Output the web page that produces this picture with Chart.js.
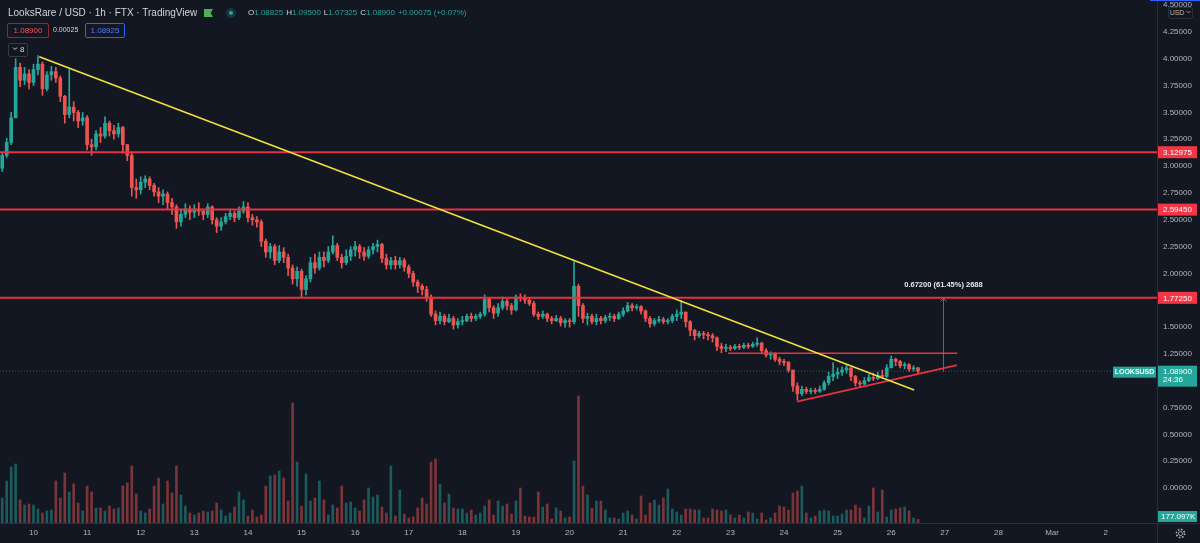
<!DOCTYPE html>
<html>
<head>
<meta charset="utf-8">
<title>LooksRare / USD · 1h · FTX</title>
<script src="https://cdn.jsdelivr.net/npm/chart.js@4.4.0/dist/chart.umd.min.js"></script>
<style>
  html, body { margin: 0; padding: 0; background: #131722; overflow: hidden; }
  #wrap { position: relative; width: 1200px; height: 543px; font-family: "Liberation Sans", Arial, sans-serif; }
  #c { position: absolute; left: 0; top: 0; }
  .t { position: absolute; white-space: nowrap; color: #d1d4dc; line-height: 12px; }
  .box { position: absolute; box-sizing: border-box; text-align: center; white-space: nowrap; }
  .ohlc .v { color: #26a69a; margin-right: 3px; }
</style>
</head>
<body>
<div id="wrap">
  <canvas id="c" width="1200" height="543"></canvas>

  <div class="t" style="left:8px;top:7px;font-size:10px;">LooksRare / USD · 1h · FTX · TradingView</div>
  <div style="position:absolute;left:204px;top:9px;width:9px;height:8px;background:#4caf50;clip-path:polygon(0 0,100% 0,75% 50%,100% 100%,0 100%);"></div>
  <div style="position:absolute;left:226px;top:8px;width:10px;height:10px;border-radius:50%;background:rgba(38,166,154,0.22);"></div>
  <div style="position:absolute;left:229px;top:11px;width:4px;height:4px;border-radius:50%;background:#26a69a;"></div>
  <div class="t ohlc" style="left:248px;top:8px;font-size:8px;line-height:10px;"><span>O</span><span class="v">1.08825</span><span>H</span><span class="v">1.09500</span><span>L</span><span class="v">1.07325</span><span>C</span><span class="v">1.08900</span><span class="v">+0.00075 (+0.07%)</span></div>

  <div class="box" style="left:7px;top:23px;width:42px;height:15px;border:1px solid rgba(242,54,69,0.55);border-radius:2px;color:#f7525f;font-size:8px;line-height:13px;">1.08900</div>
  <div class="t" style="left:53px;top:25px;font-size:7px;line-height:10px;">0.00025</div>
  <div class="box" style="left:85px;top:23px;width:40px;height:15px;border:1px solid #2962ff;border-radius:2px;color:#4d7cff;font-size:8px;line-height:13px;">1.08925</div>

  <div class="box" style="left:8px;top:43px;width:20px;height:14px;border:1px solid #363a45;border-radius:2px;color:#d1d4dc;font-size:8px;line-height:12px;">
    <svg width="6" height="5" viewBox="0 0 6 5" style="vertical-align:1px"><polyline points="1,1.5 3,3.5 5,1.5" fill="none" stroke="#d1d4dc" stroke-width="1"/></svg> 8</div>

  <div style="position:absolute;left:1150px;top:0;width:50px;height:1px;background:#2962ff;"></div>
  <div class="box" style="left:1168px;top:7px;width:25px;height:12px;border:1px solid #2a2e39;border-radius:2px;background:#131722;color:#b2b5be;font-size:7px;line-height:10px;">USD <svg width="5" height="4" viewBox="0 0 5 4" style="vertical-align:1px"><polyline points="0.5,1 2.5,3 4.5,1" fill="none" stroke="#b2b5be" stroke-width="0.8"/></svg></div>

  <svg style="position:absolute;left:1175px;top:528px" width="11" height="11" viewBox="0 0 11 11">
    <circle cx="5.5" cy="5.5" r="2" fill="none" stroke="#b2b5be" stroke-width="0.9"/>
    <circle cx="5.5" cy="5.5" r="4.1" fill="none" stroke="#b2b5be" stroke-width="1.6" stroke-dasharray="1.6 1.6"/>
  </svg>
</div>

<script>
// axis labels
const dayLabels = ['10', '11', '12', '13', '14', '15', '16', '17', '18', '19', '20', '21', '22', '23', '24', '25', '26', '27', '28', 'Mar', '2'];
const priceTicks = [-0.25, 0, 0.25, 0.5, 0.75, 1, 1.25, 1.5, 1.75, 2, 2.25, 2.5, 2.75, 3, 3.25, 3.5, 3.75, 4, 4.25, 4.5];

// candles: 2h bars, hours counted from Feb 10 00:00
const startHour = -14;
const stepHours = 2;
const firstOpen = 2.98;
const closes = [
  3.10, 3.22, 3.45, 3.92, 3.80, 3.86, 3.78,
  3.90, 3.95, 3.72, 3.85, 3.88, 3.82, 3.65, 3.48, 3.55, 3.50, 3.42, 3.45,
  3.20, 3.18, 3.30, 3.28, 3.40, 3.33, 3.30, 3.36, 3.20, 3.10, 2.80, 2.78,
  2.85, 2.88, 2.82, 2.76, 2.72, 2.74, 2.66, 2.62, 2.48, 2.55, 2.60, 2.57,
  2.60, 2.58, 2.55, 2.62, 2.50, 2.44, 2.48, 2.53, 2.56, 2.52, 2.58, 2.62,
  2.52, 2.50, 2.48, 2.30, 2.20, 2.25, 2.12, 2.20, 2.15, 2.05, 1.95, 2.02,
  1.85, 1.95, 2.10, 2.05, 2.15, 2.12, 2.20, 2.26, 2.15, 2.10, 2.16, 2.22,
  2.25, 2.20, 2.16, 2.22, 2.25, 2.27, 2.14, 2.08, 2.12, 2.08, 2.12, 2.06,
  2.00, 1.92, 1.88, 1.85, 1.78, 1.62, 1.56, 1.60, 1.55, 1.58, 1.52, 1.55,
  1.56, 1.60, 1.58, 1.60, 1.62, 1.76, 1.68, 1.63, 1.68, 1.74, 1.70, 1.66,
  1.78, 1.77, 1.75, 1.72, 1.62, 1.60, 1.62, 1.58, 1.56, 1.58, 1.54, 1.56,
  1.55, 1.88, 1.70, 1.58, 1.60, 1.55, 1.58, 1.56, 1.59, 1.60, 1.58, 1.62,
  1.65, 1.70, 1.68, 1.69, 1.65, 1.58, 1.53, 1.56, 1.57, 1.55, 1.56, 1.60,
  1.62, 1.64, 1.55, 1.47, 1.42, 1.44, 1.43, 1.42, 1.40, 1.32, 1.30, 1.31,
  1.30, 1.32, 1.31, 1.33, 1.32, 1.34, 1.35, 1.28, 1.24, 1.25, 1.20, 1.18,
  1.17, 1.10, 0.95, 0.88, 0.92, 0.90, 0.91, 0.90, 0.92, 0.98, 1.04, 1.06,
  1.08, 1.10, 1.12, 1.04, 0.98, 0.97, 1.00, 1.03, 1.02, 1.05, 1.04, 1.12,
  1.20, 1.18, 1.14, 1.15, 1.11, 1.12, 1.089
];
const highs = [
  3.12, 3.26, 3.50, 4.00, 3.96, 3.92, 3.90,
  3.95, 4.03, 3.97, 3.88, 3.93, 3.92, 3.84, 3.66, 3.90, 3.60, 3.52, 3.50,
  3.47, 3.25, 3.33, 3.36, 3.46, 3.42, 3.38, 3.40, 3.37, 3.20, 3.12, 2.88,
  2.90, 2.91, 2.90, 2.84, 2.80, 2.78, 2.76, 2.70, 2.64, 2.60, 2.65, 2.63,
  2.64, 2.66, 2.60, 2.65, 2.63, 2.52, 2.52, 2.56, 2.60, 2.58, 2.62, 2.67,
  2.66, 2.55, 2.53, 2.50, 2.32, 2.28, 2.27, 2.26, 2.24, 2.18, 2.08, 2.06,
  2.04, 1.98, 2.15, 2.18, 2.20, 2.20, 2.25, 2.35, 2.28, 2.18, 2.22, 2.25,
  2.30, 2.27, 2.24, 2.25, 2.28, 2.31, 2.28, 2.18, 2.15, 2.16, 2.15, 2.14,
  2.08, 2.02, 1.94, 1.90, 1.88, 1.80, 1.65, 1.64, 1.62, 1.62, 1.60, 1.58,
  1.60, 1.62, 1.63, 1.62, 1.64, 1.80, 1.77, 1.70, 1.72, 1.78, 1.76, 1.72,
  1.80, 1.81, 1.80, 1.77, 1.74, 1.64, 1.65, 1.63, 1.60, 1.61, 1.60, 1.58,
  1.58, 2.11, 1.90, 1.72, 1.63, 1.62, 1.62, 1.60, 1.61, 1.63, 1.62, 1.64,
  1.68, 1.73, 1.72, 1.71, 1.70, 1.66, 1.60, 1.58, 1.60, 1.59, 1.58, 1.62,
  1.66, 1.75, 1.64, 1.56, 1.48, 1.46, 1.46, 1.45, 1.44, 1.41, 1.35, 1.34,
  1.33, 1.34, 1.34, 1.35, 1.35, 1.36, 1.40, 1.36, 1.30, 1.27, 1.26, 1.22,
  1.20, 1.18, 1.10, 0.98, 0.95, 0.94, 0.93, 0.93, 0.95, 1.00, 1.08, 1.17,
  1.12, 1.13, 1.15, 1.12, 1.05, 1.00, 1.03, 1.06, 1.07, 1.08, 1.10, 1.15,
  1.23, 1.21, 1.19, 1.17, 1.16, 1.14, 1.125
];
const lows = [
  2.95, 3.08, 3.20, 3.45, 3.74, 3.76, 3.72,
  3.75, 3.85, 3.66, 3.70, 3.80, 3.78, 3.60, 3.40, 3.45, 3.42, 3.36, 3.38,
  3.15, 3.10, 3.15, 3.22, 3.26, 3.28, 3.25, 3.27, 3.12, 3.05, 2.72, 2.70,
  2.74, 2.80, 2.78, 2.72, 2.66, 2.64, 2.60, 2.55, 2.42, 2.44, 2.52, 2.50,
  2.52, 2.54, 2.50, 2.52, 2.46, 2.38, 2.40, 2.46, 2.50, 2.48, 2.50, 2.56,
  2.48, 2.45, 2.43, 2.25, 2.15, 2.14, 2.08, 2.10, 2.10, 1.98, 1.90, 1.88,
  1.78, 1.80, 1.92, 2.00, 2.03, 2.06, 2.10, 2.18, 2.12, 2.05, 2.08, 2.12,
  2.16, 2.14, 2.12, 2.14, 2.18, 2.20, 2.10, 2.04, 2.04, 2.04, 2.05, 2.02,
  1.96, 1.88, 1.82, 1.80, 1.74, 1.60, 1.52, 1.53, 1.52, 1.54, 1.48, 1.49,
  1.52, 1.55, 1.55, 1.56, 1.58, 1.60, 1.64, 1.58, 1.60, 1.66, 1.66, 1.62,
  1.65, 1.74, 1.72, 1.70, 1.60, 1.57, 1.58, 1.55, 1.53, 1.55, 1.51, 1.50,
  1.50, 1.53, 1.60, 1.54, 1.52, 1.53, 1.52, 1.53, 1.54, 1.56, 1.55, 1.57,
  1.60, 1.64, 1.65, 1.66, 1.62, 1.55, 1.50, 1.51, 1.54, 1.53, 1.53, 1.54,
  1.56, 1.58, 1.50, 1.42, 1.38, 1.40, 1.39, 1.38, 1.36, 1.28, 1.26, 1.27,
  1.28, 1.29, 1.29, 1.30, 1.30, 1.31, 1.32, 1.25, 1.22, 1.20, 1.18, 1.15,
  1.14, 1.08, 0.90, 0.82, 0.86, 0.88, 0.88, 0.88, 0.89, 0.91, 0.96, 1.00,
  1.02, 1.05, 1.07, 1.00, 0.95, 0.94, 0.96, 0.99, 1.00, 1.01, 1.02, 1.03,
  1.12, 1.14, 1.12, 1.11, 1.09, 1.09, 1.073
];
// volume, thousands
const volumes = [
  1250, 2100, 2800, 2950, 1150, 900, 950,
  900, 700, 500, 600, 650, 2100, 1250, 2500, 1550, 1950, 1000, 600,
  1850, 1550, 750, 750, 600, 850, 700, 750, 1850, 2000, 2850, 1450,
  600, 500, 700, 1850, 2250, 950, 2100, 1500, 2850, 1400, 850, 500,
  400, 500, 600, 550, 600, 1000, 650, 350, 500, 800, 1550, 1150,
  350, 650, 300, 400, 1850, 2350, 2400, 2600, 2250, 1100, 6000, 3050,
  850, 2450, 1100, 1250, 2100, 1150, 400, 900, 750, 1850, 1000, 1050,
  750, 600, 1150, 1750, 1300, 1400, 800, 500, 2850, 350, 1650, 450,
  250, 300, 750, 1250, 950, 3050, 3200, 1950, 1000, 1450, 750, 700,
  700, 500, 650, 400, 500, 850, 1150, 400, 1100, 850, 950, 450,
  1100, 1750, 350, 300, 300, 1550, 800, 950, 200, 750, 600, 250,
  300, 3100, 6350, 1850, 1400, 750, 1100, 1100, 650, 250, 250, 200,
  500, 600, 400, 200, 1350, 400, 1000, 1150, 900, 1250, 1700, 700,
  550, 400, 700, 700, 650, 650, 250, 250, 700, 650, 600, 650,
  400, 250, 400, 250, 550, 500, 200, 500, 150, 250, 500, 850,
  800, 650, 1500, 1600, 1850, 500, 250, 350, 600, 650, 600, 350,
  350, 450, 650, 650, 900, 750, 250, 850, 1750, 550, 1650, 300,
  650, 700, 750, 800, 600, 250, 177.097
];

// drawn levels and trend lines (hour, price)
const levels = [3.12975, 2.5945, 1.7725];
const lastPrice = 1.089;
const yellowLine = [{x: 2.6, y: 4.02}, {x: 394.3, y: 0.913}];
const boxTopLine = [{x: 311, y: 1.255}, {x: 413.6, y: 1.255}];
const risingLine = [{x: 341.8, y: 0.804}, {x: 413.4, y: 1.146}];
const measureLine = [{x: 407.4, y: 1.084}, {x: 407.4, y: 1.766}];
const measureText = '0.67200 (61.45%) 2688';

const UP = '#26a69a', DOWN = '#ef5350';
const hours = closes.map((c, i) => startHour + i * stepHours);
const opens = closes.map((c, i) => i === 0 ? firstOpen : closes[i - 1]);
const isUp = closes.map((c, i) => c >= opens[i]);

Chart.defaults.font.family = '"Liberation Sans", Arial, sans-serif';

const overlay = {
  id: 'overlay',
  afterDraw(chart) {
    const { ctx, chartArea: a, scales } = chart;
    const y = scales.y, x = scales.x, yv = scales.yv;
    const r = Math.round(a.right);
    ctx.save();

    // pane separators
    ctx.strokeStyle = '#2a2e39';
    ctx.lineWidth = 1;
    ctx.beginPath();
    ctx.moveTo(r + 0.5, 0); ctx.lineTo(r + 0.5, 543);
    ctx.moveTo(0, Math.round(a.bottom) + 0.5); ctx.lineTo(1200, Math.round(a.bottom) + 0.5);
    ctx.stroke();

    ctx.font = '8px "Liberation Sans", Arial, sans-serif';
    ctx.textBaseline = 'middle';

    // level tags
    levels.forEach(v => {
      const py = y.getPixelForValue(v);
      ctx.fillStyle = '#f23645';
      ctx.fillRect(r + 1, py - 6, 39, 12);
      ctx.fillStyle = '#ffffff';
      ctx.textAlign = 'left';
      ctx.fillText(v.toFixed(5), r + 6, py + 0.5);
    });

    // last price tag + countdown
    const lp = y.getPixelForValue(lastPrice);
    ctx.fillStyle = UP;
    ctx.fillRect(r + 1, lp - 5.5, 39, 21);
    ctx.fillStyle = '#ffffff';
    ctx.textAlign = 'left';
    ctx.fillText(lastPrice.toFixed(5), r + 6, lp + 0.5);
    ctx.fillText('24:36', r + 6, lp + 8.5);

    // symbol tag
    ctx.fillStyle = UP;
    ctx.fillRect(r - 44, lp - 4.5, 43, 11);
    ctx.fillStyle = '#ffffff';
    ctx.textAlign = 'center';
    ctx.font = 'bold 7px "Liberation Sans", Arial, sans-serif';
    ctx.fillText('LOOKSUSD', r - 22.5, lp + 1);

    // volume tag
    const lv = volumes[volumes.length - 1];
    const vy = Math.min(yv.getPixelForValue(lv), a.bottom - 6.5);
    ctx.fillStyle = UP;
    ctx.fillRect(r + 1, vy - 5.5, 39, 11);
    ctx.fillStyle = '#ffffff';
    ctx.textAlign = 'left';
    ctx.font = '8px "Liberation Sans", Arial, sans-serif';
    ctx.fillText(lv.toFixed(3) + 'K', r + 4, vy + 0.5);

    // measure arrow head and label
    const mx = x.getPixelForValue(measureLine[1].x);
    const my = y.getPixelForValue(measureLine[1].y);
    ctx.strokeStyle = 'rgba(120,130,135,0.9)';
    ctx.lineWidth = 1;
    ctx.beginPath();
    ctx.moveTo(mx - 3, my + 3); ctx.lineTo(mx, my); ctx.lineTo(mx + 3, my + 3);
    ctx.stroke();
    ctx.fillStyle = '#e6e8ee';
    ctx.textAlign = 'center';
    ctx.font = 'bold 7.5px "Liberation Sans", Arial, sans-serif';
    ctx.fillText(measureText, mx, my - 14);

    ctx.restore();
  }
};

const lineDs = (data, color, width, order, extra) => Object.assign({
  type: 'line', data, borderColor: color, borderWidth: width, pointRadius: 0,
  tension: 0, order, yAxisID: 'y', xAxisID: 'x'
}, extra || {});

new Chart(document.getElementById('c'), {
  type: 'bar',
  data: {
    datasets: [
      {
        label: 'volume', yAxisID: 'yv', order: 9, grouped: false, barThickness: 2,
        data: hours.map((h, i) => ({ x: h, y: volumes[i] })),
        backgroundColor: isUp.map(u => u ? 'rgba(38,166,154,0.48)' : 'rgba(239,83,80,0.48)')
      },
      {
        label: 'wick', yAxisID: 'y', order: 8, grouped: false, barThickness: 1,
        data: hours.map((h, i) => ({ x: h, y: [lows[i], highs[i]] })),
        backgroundColor: isUp.map(u => u ? UP : DOWN)
      },
      {
        label: 'body', yAxisID: 'y', order: 7, grouped: false, barThickness: 3, minBarLength: 1,
        data: hours.map((h, i) => ({ x: h, y: [opens[i], closes[i]] })),
        backgroundColor: isUp.map(u => u ? UP : DOWN)
      },
      lineDs([{ x: -15, y: lastPrice }, { x: 484.5, y: lastPrice }], 'rgba(38,166,154,0.55)', 1, 6, { borderDash: [1, 2] }),
      ...levels.map(v => lineDs([{ x: -15, y: v }, { x: 503, y: v }], '#e8323f', 2, 5)),
      lineDs(boxTopLine, '#e8323f', 1.5, 4),
      lineDs(risingLine, '#e8323f', 1.8, 3),
      lineDs(measureLine, 'rgba(110,120,125,0.85)', 1, 2),
      lineDs(yellowLine, '#f2e13c', 1.6, 1)
    ]
  },
  options: {
    responsive: false,
    animation: false,
    devicePixelRatio: 1,
    layout: { padding: 0 },
    events: [],
    plugins: { legend: { display: false }, tooltip: { enabled: false } },
    scales: {
      x: {
        type: 'linear', position: 'bottom', min: -15, max: 503, offset: false,
        grid: { display: false, drawTicks: false, offset: false }, border: { display: false },
        afterBuildTicks: s => { s.ticks = dayLabels.map((d, i) => ({ value: i * 24 })); },
        afterFit: s => { s.height = 20; s.paddingLeft = 0; s.paddingRight = 0; },
        ticks: {
          autoSkip: false, maxRotation: 0, padding: 5, color: '#b2b5be', font: { size: 8 },
          callback: v => dayLabels[Math.round(v / 24)]
        }
      },
      y: {
        type: 'linear', position: 'right', min: -0.326, max: 4.548,
        grid: { display: false, drawTicks: false }, border: { display: false },
        afterBuildTicks: s => { s.ticks = priceTicks.map(v => ({ value: v })); },
        afterFit: s => { s.width = 43; s.paddingTop = 0; s.paddingBottom = 0; },
        ticks: { padding: 6, color: '#b2b5be', font: { size: 8 }, callback: v => v.toFixed(5) }
      },
      yv: { type: 'linear', display: false, min: 0, max: 26150 }
    }
  },
  plugins: [overlay]
});
</script>
</body>
</html>
